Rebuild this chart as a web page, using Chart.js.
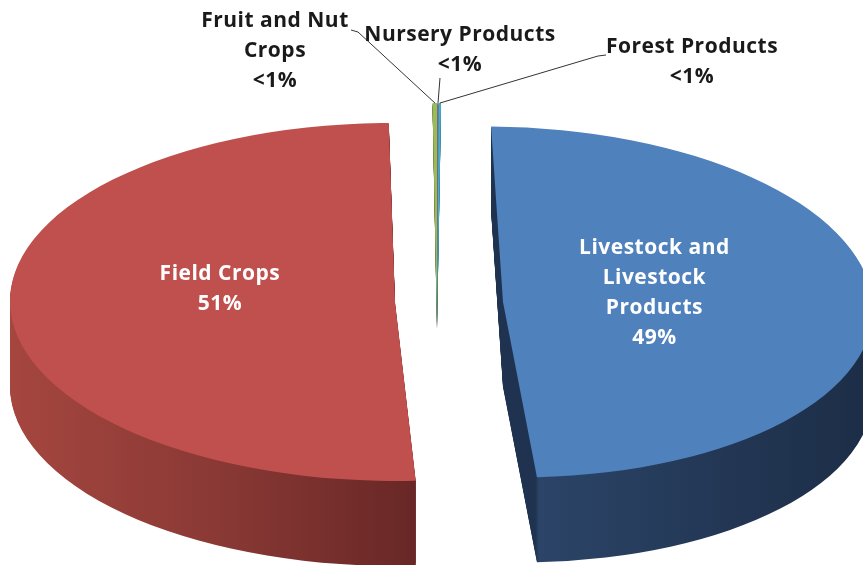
<!DOCTYPE html>
<html>
<head>
<meta charset="utf-8">
<title>Farm receipts by sector</title>
<script src="https://cdn.jsdelivr.net/npm/chart.js@4.4.1/dist/chart.umd.min.js"></script>
<style>
    html, body { margin: 0; padding: 0; background: #ffffff; }
    #wrap { width: 863px; height: 565px; position: relative; }
</style>
</head>
<body>
<div id="wrap"><canvas id="sectorPie" width="863" height="565"></canvas></div>
<script>
// Share of sales by sector (%)
var categories = ['Livestock and Livestock Products', 'Field Crops', 'Fruit and Nut Crops', 'Nursery Products', 'Forest Products'];
var shares = [49.05, 50.6, 0.2, 0.05, 0.1];
var labelLines = [
    ['Livestock and', 'Livestock', 'Products'],
    ['Field Crops'],
    ['Fruit and Nut', 'Crops'],
    ['Nursery Products'],
    ['Forest Products']
];

(function () {
    var topColors = ['#4f81bd', '#c0504d', '#9bbb59', '#8064a2', '#4bacc6'];
    var sideStops = [
        [[0, '#1f3350'], [0.09, '#1f3350'], [0.1, '#2b4467'], [1, '#1c2d46']],
        [[0, '#a5463f'], [0.5, '#8a3935'], [1, '#672726']],
        [[0, '#5f7733'], [1, '#4d602a']],
        [[0, '#5b4677'], [1, '#45355a']],
        [[0, '#35819a'], [1, '#2a6678']]
    ];
    // ellipse the flat pie is squashed into, extrusion depth (screen px)
    var PIE = { cx: 445, cy: 302, rx: 385, ry: 179, depth: 85 };
    // per-slice explosion / tilt / stretch in screen px
    var EXPLODE = [
        { dx: 58, dy: 0, skew: 0.09, sx: 0.96, sy: 0.98, depth: 85 },
        { dx: -50, dy: 0, skew: 0.01, sx: 1, sy: 1, depth: 85 },
        { dx: -8, dy: 23, skew: 0, sx: 1, sy: 1.24, depth: 5 },
        { dx: -8, dy: 23, skew: 0, sx: 1, sy: 1.24, depth: 5 },
        { dx: -8, dy: 23, skew: 0, sx: 1, sy: 1.24, depth: 5 }
    ];
    var FONT = 'bold 21px "Open Sans", Lato, sans-serif';
    var LINE_H = 30;

    function pctText(v) {
        return v < 1 ? '<1%' : Math.round(v) + '%';
    }

    function sliceTransform(ctx, el, i, dy) {
        var e = EXPLODE[i];
        var r0 = el.outerRadius;
        ctx.translate(PIE.cx + e.dx, PIE.cy + e.dy + dy);
        ctx.transform(1, 0, e.skew, 1, 0, 0);
        ctx.scale(PIE.rx * e.sx / r0, PIE.ry * e.sy / r0);
        ctx.translate(-el.x, -el.y);
    }

    function mapPoint(el, i, px, py) {
        var e = EXPLODE[i];
        var r0 = el.outerRadius;
        var rx = (px - el.x) * PIE.rx * e.sx / r0;
        var ry = (py - el.y) * PIE.ry * e.sy / r0;
        return { x: PIE.cx + e.dx + rx + e.skew * ry, y: PIE.cy + e.dy + ry };
    }

    function polar(el, i, ang, frac) {
        var r = el.outerRadius * frac;
        return mapPoint(el, i, el.x + Math.cos(ang) * r, el.y + Math.sin(ang) * r);
    }

    var pie3d = {
        id: 'pie3d',
        beforeDatasetsDraw: function (chart) {
            var ctx = chart.ctx;
            var arcs = chart.getDatasetMeta(0).data;
            var order = [2, 3, 4, 1, 0];
            var fills = arcs.map(function (el, i) {
                var a = mapPoint(el, i, el.x - el.outerRadius, el.y).x;
                var b = mapPoint(el, i, el.x + el.outerRadius, el.y).x;
                if (i === 0) a = polar(el, i, el.endAngle, 1).x - 35;
                if (i === 1) b = polar(el, i, el.startAngle, 1).x + 5;
                var g = ctx.createLinearGradient(a, 0, b, 0);
                sideStops[i].forEach(function (s) { g.addColorStop(s[0], s[1]); });
                return g;
            });
            // extruded walls: each slice outline stacked downwards
            for (var k = PIE.depth; k >= 1; k--) {
                order.forEach(function (i) {
                    if (k > EXPLODE[i].depth) return;
                    var el = arcs[i];
                    ctx.save();
                    sliceTransform(ctx, el, i, k);
                    ctx.beginPath();
                    ctx.moveTo(el.x, el.y);
                    ctx.arc(el.x, el.y, el.outerRadius, el.startAngle, el.endAngle);
                    ctx.closePath();
                    ctx.restore();
                    ctx.fillStyle = fills[i];
                    ctx.fill();
                });
            }
            // top faces, drawn by the library's arc elements
            order.forEach(function (i) {
                ctx.save();
                sliceTransform(ctx, arcs[i], i, 0);
                arcs[i].draw(ctx);
                ctx.restore();
            });
            return false;
        },
        afterDraw: function (chart) {
            var ctx = chart.ctx;
            var arcs = chart.getDatasetMeta(0).data;
            var inner = { 0: { f: 0.41, dy: -8 }, 1: { f: 0.455, dy: -15 } };
            var outer = {
                2: { x: 275, y: 21, path: [[351, 30], [358, 32]] },
                3: { x: 460, y: 35, path: [[440, 78]] },
                4: { x: 692, y: 47, path: [[606, 55], [598, 56]] }
            };
            ctx.save();
            ctx.font = FONT;
            ctx.letterSpacing = '0.5px';
            ctx.textAlign = 'center';
            ctx.textBaseline = 'middle';
            arcs.forEach(function (el, i) {
                var lines = labelLines[i].concat([pctText(shares[i])]);
                var mid = (el.startAngle + el.endAngle) / 2;
                if (inner[i]) {
                    var p = polar(el, i, mid, inner[i].f);
                    var y0 = p.y + inner[i].dy - (lines.length - 1) * LINE_H / 2;
                    ctx.fillStyle = '#ffffff';
                    lines.forEach(function (t, j) { ctx.fillText(t, p.x, y0 + j * LINE_H); });
                } else if (outer[i]) {
                    var o = outer[i];
                    var tip = polar(el, i, mid, 1);
                    ctx.strokeStyle = '#333333';
                    ctx.lineWidth = 1;
                    ctx.beginPath();
                    ctx.moveTo(o.path[0][0], o.path[0][1]);
                    for (var m = 1; m < o.path.length; m++) ctx.lineTo(o.path[m][0], o.path[m][1]);
                    ctx.lineTo(tip.x, tip.y);
                    ctx.stroke();
                    ctx.fillStyle = '#1a1a1a';
                    lines.forEach(function (t, j) { ctx.fillText(t, o.x, o.y + j * LINE_H); });
                }
            });
            ctx.restore();
        }
    };

    new Chart(document.getElementById('sectorPie'), {
        type: 'pie',
        data: {
            labels: categories,
            datasets: [{
                data: shares,
                backgroundColor: topColors,
                borderWidth: 0,
                hoverOffset: 0,
                clip: false
            }]
        },
        options: {
            responsive: false,
            animation: false,
            events: [],
            rotation: 0.6,
            layout: { padding: 0 },
            plugins: { legend: { display: false }, tooltip: { enabled: false } }
        },
        plugins: [pie3d]
    });
})();
</script>
</body>
</html>
